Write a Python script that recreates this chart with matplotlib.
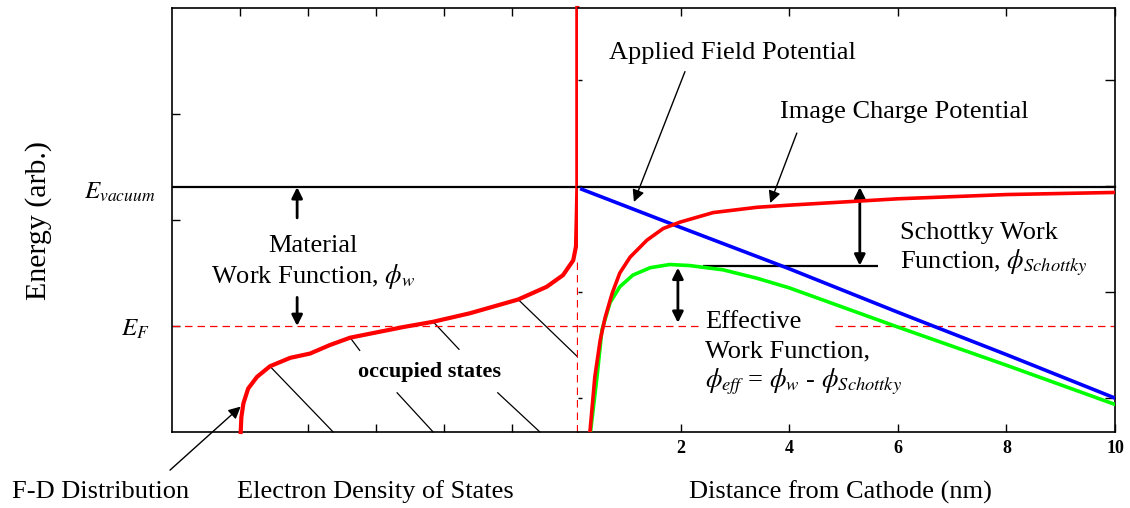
import matplotlib
matplotlib.use("Agg")
import matplotlib.pyplot as plt

plt.rcParams["font.family"] = ["Liberation Serif", "DejaVu Serif"]
plt.rcParams["mathtext.fontset"] = "stix"

# energy levels (arb. units)
E_VAC = 2.31
E_F = 1.0

# Fermi-Dirac occupied edge (left panel, density of states vs energy)
fd_dos = [1.01, 1.02, 1.05, 1.12, 1.25, 1.44, 1.74, 2.03, 2.32, 2.62, 3.40, 3.84, 4.38,
          5.09, 5.51, 5.75, 5.90, 5.94, 5.95, 5.96, 5.96]
fd_energy = [0.0, 0.14, 0.27, 0.41, 0.52, 0.62, 0.70, 0.74, 0.82, 0.89, 0.99, 1.04, 1.12,
             1.25, 1.37, 1.48, 1.62, 1.75, 2.0, 2.31, 4.0]

# right panel: distance from cathode (nm)
applied_x = [0.18, 2, 4, 6, 8, 10]
applied_e = [2.29, 1.93, 1.54, 1.13, 0.73, 0.32]

image_x = [0.33, 0.42, 0.52, 0.61, 0.74, 0.88, 1.07, 1.38, 1.68, 1.99, 2.60, 3.41, 4.0, 6.0, 8.0, 10.0]
image_e = [0.0, 0.52, 0.87, 1.08, 1.31, 1.50, 1.65, 1.81, 1.92, 1.98, 2.07, 2.12, 2.14, 2.20, 2.24, 2.26]

total_x = [0.34, 0.46, 0.55, 0.70, 0.88, 1.12, 1.44, 1.80, 2.17, 2.78, 3.41, 4.0, 6.0, 8.0, 10.0]
total_e = [0.0, 0.52, 0.96, 1.22, 1.37, 1.48, 1.55, 1.58, 1.57, 1.53, 1.45, 1.36, 0.99, 0.63, 0.26]

# hatch strokes marking the occupied states
hatch = [
    ((1.44, 0.62), (2.37, 0.0)),
    ((2.62, 0.89), (2.76, 0.77)),
    ((3.31, 0.37), (3.84, 0.0)),
    ((3.84, 1.04), (4.22, 0.78)),
    ((4.79, 0.37), (5.41, 0.0)),
    ((5.09, 1.25), (6.06, 0.65)),
]

dist_ticks = [2, 4, 6, 8, 10]
right_yticks = [0.32, 1.32, 2.32, 3.32]

fig = plt.figure(figsize=(11.3, 5.08), dpi=100)
ax1 = fig.add_axes([172 / 1130, 76 / 508, 406 / 1130, 424 / 508])
ax2 = fig.add_axes([578 / 1130, 76 / 508, 537 / 1130, 424 / 508])

for ax in (ax1, ax2):
    ax.set_ylim(0, 4)
    for s in ax.spines.values():
        s.set_linewidth(1.2)
ax1.set_xlim(0, 5.97)
ax2.set_xlim(0.11, 10)
ax1.spines["right"].set_visible(False)
ax2.spines["left"].set_visible(False)

# left panel ticks
ax1.set_xticks([1, 2, 3, 4, 5])
ax1.set_yticks([1, 2, 3])
ax1.tick_params(direction="in", length=6, width=1, top=True, bottom=True,
                left=True, right=False, labelbottom=False, labelleft=False)

# right panel ticks
ax2.set_xticks(dist_ticks)
ax2.set_yticks(right_yticks)
ax2.tick_params(axis="x", direction="in", length=6, width=1, top=True, bottom=True,
                labelsize=13, pad=6)
ax2.tick_params(axis="y", direction="in", width=1, left=True, right=True,
                labelleft=False)
for t in ax2.yaxis.get_major_ticks():
    t.tick1line.set_markersize(3)
    t.tick2line.set_markersize(7)
for lab in ax2.get_xticklabels():
    lab.set_fontweight("bold")

# reference levels
ax1.axhline(E_VAC, color="k", lw=1.6, zorder=2)
ax2.axhline(E_VAC, color="k", lw=1.6, zorder=2, clip_on=False)
ax1.axhline(E_F, color="red", lw=0.9, ls=(0, (6, 4)))
ax2.hlines(E_F, 0.11, 2.42, color="red", lw=0.9, ls=(0, (6, 4)))
ax2.hlines(E_F, 4.85, 10, color="red", lw=0.9, ls=(0, (6, 4)))
ax1.vlines(5.95, 0, 1.62, color="red", lw=0.9, ls=(0, (6, 4)))

# hatch
for (x0, y0), (x1, y1) in hatch:
    ax1.plot([x0, x1], [y0, y1], color="k", lw=0.9, clip_on=False, zorder=1)

# curves
ax1.plot(fd_dos, fd_energy, color="#ff0000", lw=3, zorder=4, clip_on=False)
ax2.plot(applied_x, applied_e, color="#0000ff", lw=2.6, zorder=4)
ax2.plot(image_x, image_e, color="#ff0000", lw=2.6, zorder=4)
ax2.plot(total_x, total_e, color="#00ff00", lw=2.6, zorder=3)
ax2.hlines(1.57, 2.42, 5.64, color="k", lw=1.6)

txt = dict(fontsize=19)
arrow_thin = dict(arrowstyle="-|>", lw=1, color="k", mutation_scale=18,
                  shrinkA=0, shrinkB=0)
arrow_bold = dict(arrowstyle="-|>", lw=2, color="k", mutation_scale=16,
                  shrinkA=0, shrinkB=0)
arrow_both = dict(arrowstyle="<|-|>", lw=2, color="k", mutation_scale=16,
                  shrinkA=0, shrinkB=0)

# left panel annotations
ax1.annotate("", xy=(1.84, E_VAC), xytext=(1.84, 2.02), arrowprops=arrow_bold)
ax1.annotate("", xy=(1.84, E_F), xytext=(1.84, 1.27), arrowprops=arrow_bold)
ax1.text(2.07, 1.70, "Material", ha="center", va="baseline", **txt)
ax1.text(2.07, 1.41, r"Work Function, $\phi_w$", ha="center", va="baseline", **txt)
ax1.text(3.78, 0.52, "occupied states", ha="center", va="baseline",
         fontsize=16, fontweight="bold")
ax1.annotate("", xy=(1.01, 0.24), xytext=(-0.03, -0.36), arrowprops=arrow_thin,
             annotation_clip=False)
ax1.text(-0.042, 2.2, r"$E_{vacuum}$", ha="right", va="baseline", fontsize=18,
         transform=ax1.get_yaxis_transform())
ax1.text(-0.055, 0.91, r"$E_F$", ha="right", va="baseline", fontsize=18,
         transform=ax1.get_yaxis_transform())

# right panel annotations
ax2.text(2.96, 3.52, "Applied Field Potential", ha="center", va="baseline", **txt)
ax2.annotate("", xy=(1.14, 2.17), xytext=(2.08, 3.40), arrowprops=arrow_thin)
ax2.text(6.11, 2.96, "Image Charge Potential", ha="center", va="baseline", **txt)
ax2.annotate("", xy=(3.65, 2.16), xytext=(4.14, 2.82), arrowprops=arrow_thin)
ax2.annotate("", xy=(5.30, 1.57), xytext=(5.30, E_VAC), arrowprops=arrow_both)
ax2.text(6.04, 1.82, "Schottky Work", ha="left", va="baseline", **txt)
ax2.text(6.04, 1.54, r"Function, $\phi_{Schottky}$", ha="left", va="baseline", **txt)
ax2.annotate("", xy=(1.95, 1.03), xytext=(1.95, 1.55), arrowprops=arrow_both)
ax2.text(2.45, 0.98, "Effective", ha="left", va="baseline", **txt)
ax2.text(2.45, 0.70, "Work Function,", ha="left", va="baseline", **txt)
ax2.text(2.45, 0.42, r"$\phi_{eff}$ = $\phi_w$ - $\phi_{Schottky}$", ha="left",
         va="baseline", **txt)

# axis labels
ax1.text(0.5, -0.156, "Electron Density of States", ha="center", va="baseline",
         transform=ax1.transAxes, **txt)
ax2.text(0.488, -0.156, "Distance from Cathode (nm)", ha="center", va="baseline",
         transform=ax2.transAxes, **txt)
ax1.text(-0.177, -0.156, "F-D Distribution", ha="center", va="baseline",
         transform=ax1.transAxes, **txt)
ax1.text(-0.328, 0.5, "Energy (arb.)", ha="center", va="center", rotation=90,
         fontsize=21.5, transform=ax1.transAxes)

fig.savefig("out.png", dpi=100)
